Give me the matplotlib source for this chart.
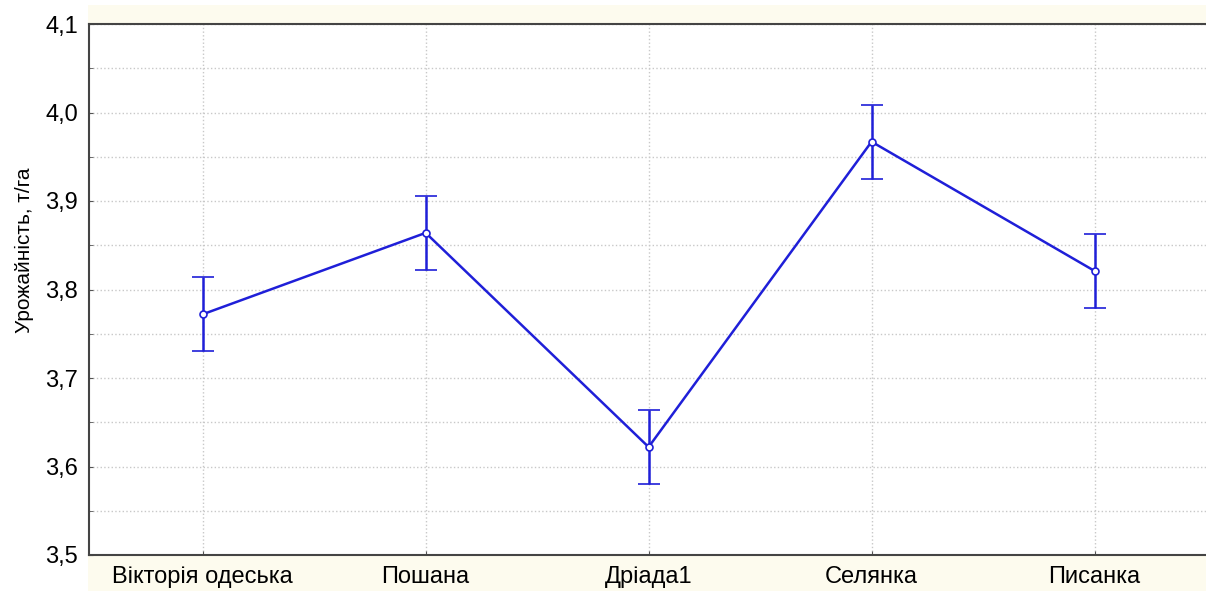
import numpy as np
import matplotlib.pyplot as plt
from matplotlib.patches import Rectangle
from matplotlib.ticker import MultipleLocator

plt.rcParams['font.family'] = ['Liberation Sans', 'DejaVu Sans']

varieties = ['Вікторія одеська', 'Пошана', 'Дріада1', 'Селянка', 'Писанка']
yield_mean = [3.772, 3.864, 3.622, 3.967, 3.821]
yield_err = [0.042, 0.042, 0.042, 0.042, 0.042]
yticks = [3.5, 3.6, 3.7, 3.8, 3.9, 4.0, 4.1]

fig = plt.figure(figsize=(12.06, 5.91), dpi=100)
# cream background behind the graph area
fig.patches.append(Rectangle((88 / 1206, 0), 1 - 88 / 1206, 1 - 5 / 591,
                             transform=fig.transFigure, facecolor='#fdfbee',
                             edgecolor='none', zorder=-1))

ax = fig.add_axes([89 / 1206, 36 / 591, 1 - 89 / 1206, (555 - 24) / 591])
ax.set_facecolor('white')
ax.set_zorder(1)

x = np.arange(len(varieties))
blue = '#1f1fd8'
ax.errorbar(x, yield_mean, yerr=yield_err, color=blue, lw=1.8, elinewidth=1.8,
            capsize=8, capthick=1.8, marker='o', ms=5, mfc='white', mec=blue,
            mew=1.2, zorder=3)

ax.set_xlim(-0.51, 4.5)
ax.set_ylim(3.5, 4.1)
ax.set_xticks(x)
ax.set_xticklabels(varieties, fontsize=17)
ax.yaxis.set_minor_locator(MultipleLocator(0.05))
ax.set_yticks(yticks)
ax.set_yticklabels([f'{v:.1f}'.replace('.', ',') for v in yticks], fontsize=17)
ax.tick_params(axis='both', which='both', direction='in', length=3,
               color='#555555')
ax.tick_params(axis='y', pad=8)
ax.tick_params(axis='x', pad=8)

ax.grid(True, which='both', axis='y', color='#c8c8c8', ls=':', lw=1)
ax.grid(True, which='major', axis='x', color='#c8c8c8', ls=':', lw=1)

for side in ['left', 'bottom', 'top']:
    ax.spines[side].set_color('#444444')
    ax.spines[side].set_linewidth(1.5)
ax.spines['right'].set_visible(False)

ax.set_ylabel('Урожайність, т/га', fontsize=15)
ax.yaxis.set_label_coords(-0.0495, 0.574)

fig.savefig('out.png', dpi=100)
